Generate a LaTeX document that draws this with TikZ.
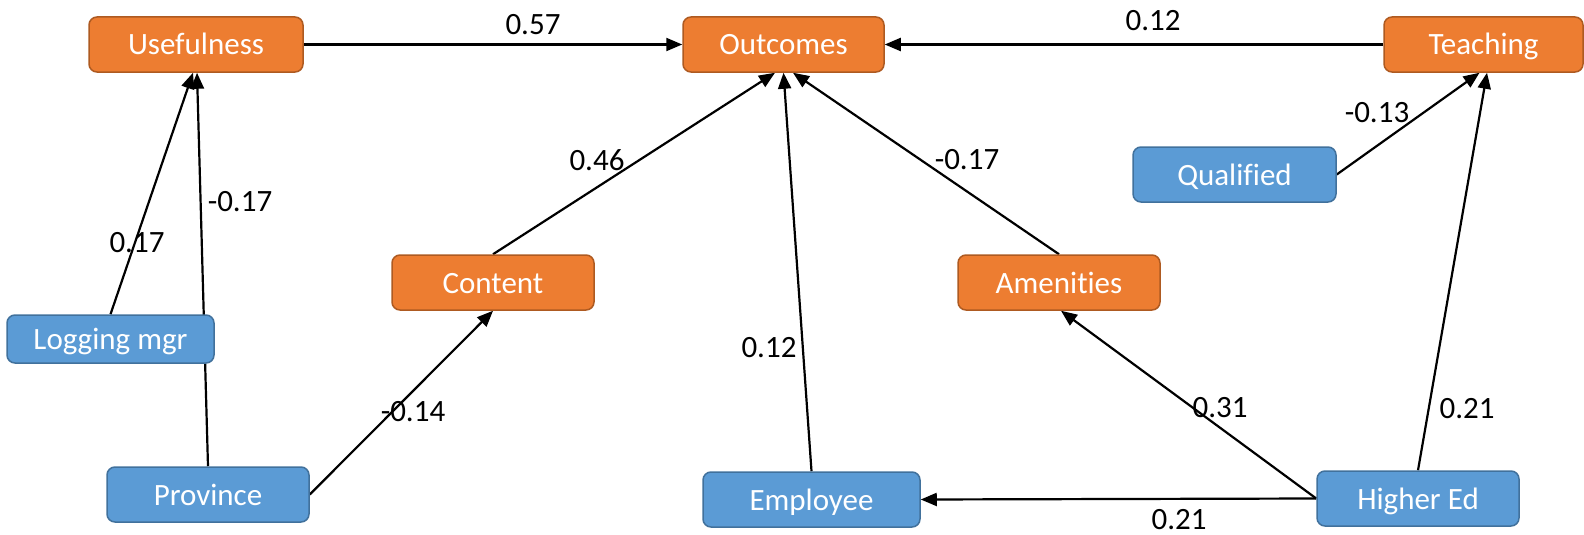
\documentclass[tikz,border=0pt]{standalone}
\usepackage{fontspec}
\setmainfont{Carlito}[Ligatures=NoCommon]
\usetikzlibrary{arrows.meta,backgrounds,calc}
\definecolor{boxorange}{HTML}{ED7D31}
\definecolor{edgeorange}{HTML}{AE5A21}
\definecolor{boxblue}{HTML}{5B9BD5}
\definecolor{edgeblue}{HTML}{41719C}
\begin{document}
\begin{tikzpicture}[x=1pt,y=-1pt,
  every node/.style={font=\fontsize{31}{36}\selectfont},
  factor/.style={rounded corners=8pt,line width=1.5pt,inner sep=0pt,
    minimum height=55pt,text=white,text height=29pt,text depth=8pt},
  latent/.style={factor,fill=boxorange,draw=edgeorange},
  observed/.style={factor,fill=boxblue,draw=edgeblue},
  path/.style={line width=2.2pt,-{Triangle[length=16pt,width=13pt]}},
  coef/.style={inner sep=0pt,text=black}]
\useasboundingbox (0,0) rectangle (1584,535);

% latent constructs
\node[latent,minimum width=214pt] (use) at (196,44.5) {Usefulness};
\node[latent,minimum width=201pt] (out) at (783.5,44.5) {Outcomes};
\node[latent,minimum width=199pt] (teach) at (1483.5,44.5) {Teaching};
\node[latent,minimum width=202pt] (content) at (493,282.5) {Content};
\node[latent,minimum width=202pt] (amen) at (1059,282.5) {Amenities};

% observed characteristics
\node[observed,minimum width=203pt] (qual) at (1234.5,174.5) {Qualified};
\node[observed,minimum width=207pt,minimum height=48pt] (logmgr) at (110.5,339) {Logging mgr};
\node[observed,minimum width=202pt] (prov) at (208,494.5) {Province};
\node[observed,minimum width=217pt] (emp) at (811.5,499.5) {Employee};
\node[observed,minimum width=202pt] (hied) at (1418,498.5) {Higher Ed};

% structural paths
\begin{pgfonlayer}{background}
\draw[path] (use.east) -- (out.west);
\draw[path] (teach.west) -- (out.east);
\draw[path] (content.north) -- ($(out.south)+(-8.5,0)$);
\draw[path] (emp.north) -- (out.south);
\draw[path] (amen.north) -- ($(out.south)+(9.5,0)$);
\draw[path] (logmgr.north) -- ($(use.south)+(-3,0)$);
\draw[path] (prov.north) -- ($(use.south)+(1,0)$);
\draw[path] (prov.east) -- (content.south);
\draw[path] (qual.east) -- ($(teach.south)+(-4,0)$);
\draw[path] (hied.north) -- ($(teach.south)+(3.5,0)$);
\draw[path] (hied.west) -- ($(amen.south)+(2,0)$);
\draw[path] (hied.west) -- (emp.east);
\end{pgfonlayer}

% path coefficients
\node[coef] (c1) at (533,25) {0.57};
\node[coef] (c2) at (1153,21) {0.12};
\node[coef] (c3) at (597,160) {0.46};
\node[coef] (c4) at (967,160) {-0.17};
\node[coef] (c5) at (137,243) {0.17};
\node[coef] (c6) at (240,202) {-0.17};
\node[coef] (c7) at (413,412) {-0.14};
\node[coef] (c8) at (769,348) {0.12};
\node[coef] (c9) at (1377,113) {-0.13};
\node[coef] (c10) at (1220,408) {0.31};
\node[coef] (c11) at (1467,409) {0.21};
\node[coef] (c12) at (1179,520) {0.21};
\end{tikzpicture}
\end{document}
